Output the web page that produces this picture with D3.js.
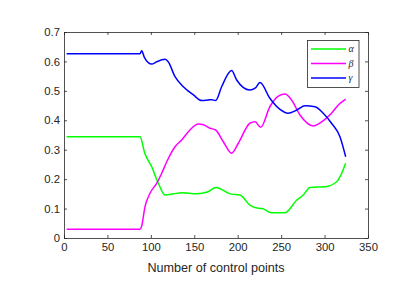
<!DOCTYPE html>
<html>
<head>
<meta charset="utf-8">
<script src="https://cdn.jsdelivr.net/npm/d3@7"></script>
<style>
  body { margin: 0; background: #fff; }
  text { font-family: "Liberation Sans", Arial, sans-serif; fill: #262626; }
</style>
</head>
<body>
<div id="chart"></div>
<script>
// series: [control points, value]
var alpha = [[3,0.344],[87.5,0.344],[93,0.288],[101,0.242],[108.6,0.186],[116.3,0.146],[126,0.15],[135.5,0.154],
  [152.8,0.15],[166,0.157],[175,0.172],[191,0.15],[202.6,0.146],[214,0.112],[223.7,0.101],[228,0.1],[239,0.086],
  [254.4,0.086],[268,0.129],[275.5,0.146],[283.2,0.172],[300.5,0.174],[314,0.191],[324.3,0.254]];
var beta = [[3,0.03],[87.5,0.03],[89.4,0.04],[93.2,0.106],[99,0.152],[106.7,0.186],[112.5,0.22],[118.3,0.259],
  [127.8,0.31],[135.5,0.333],[145,0.367],[154.6,0.387],[160.4,0.385],[168,0.373],[174.6,0.367],[183.4,0.327],
  [193,0.288],[200.7,0.322],[214,0.39],[220,0.395],[226.4,0.376],[237,0.446],[246.8,0.482],[254.4,0.489],
  [262,0.469],[271.7,0.418],[287,0.381],[296.7,0.395],[308,0.424],[315.8,0.452],[324.3,0.472]];
var gamma = [[3,0.626],[87.5,0.626],[89.4,0.636],[92.5,0.614],[101,0.591],[106.7,0.599],[116.3,0.607],[120,0.599],
  [127.8,0.548],[137.4,0.514],[149,0.486],[158.5,0.467],[166,0.469],[170,0.47],[174.6,0.467],[181.5,0.514],
  [193,0.569],[198.8,0.537],[214,0.503],[220,0.509],[225.6,0.528],[237,0.475],[248.7,0.437],[258,0.424],
  [268,0.435],[277.5,0.449],[289,0.446],[298.5,0.424],[308,0.39],[317.7,0.344],[324.3,0.276]];
var seriesNames = ["\u03b1", "\u03b2", "\u03b3"];
var seriesColors = ["#00ff00", "#ff00ff", "#0000ff"];
var xTicks = [0, 50, 100, 150, 200, 250, 300, 350];
var yTicks = [0, 0.1, 0.2, 0.3, 0.4, 0.5, 0.6, 0.7];

var W = 404, H = 294;
var pL = 64, pR = 368, pT = 32, pB = 238;

var svg = d3.select("#chart").append("svg")
  .attr("width", W).attr("height", H);

var x = d3.scaleLinear().domain([0, 350]).range([pL, pR]);
var y = d3.scaleLinear().domain([0, 0.7]).range([pB, pT]);

var line = d3.line()
  .curve(d3.curveMonotoneX)
  .x(function(d) { return x(d[0]); })
  .y(function(d) { return y(d[1]); });

[alpha, beta, gamma].forEach(function(s, i) {
  svg.append("path")
    .attr("d", line(s))
    .attr("fill", "none")
    .attr("stroke", seriesColors[i])
    .attr("stroke-width", 1.5)
    .attr("stroke-linejoin", "round");
});

// axes, MATLAB style box with inward ticks
var xAxis = svg.append("g").attr("transform", "translate(0," + pB + ")")
  .call(d3.axisBottom(x).tickValues(xTicks).tickSizeInner(-3).tickSizeOuter(0).tickPadding(5));
var xTop = svg.append("g").attr("transform", "translate(0," + pT + ")")
  .call(d3.axisTop(x).tickValues(xTicks).tickSizeInner(-3).tickSizeOuter(0).tickFormat(""));
var yAxis = svg.append("g").attr("transform", "translate(" + pL + ",0)")
  .call(d3.axisLeft(y).tickValues(yTicks).tickSizeInner(-3).tickSizeOuter(0).tickPadding(4)
    .tickFormat(function(d) { return d === 0 ? "0" : d3.format(".1f")(d); }));
var yRight = svg.append("g").attr("transform", "translate(" + pR + ",0)")
  .call(d3.axisRight(y).tickValues(yTicks).tickSizeInner(-3).tickSizeOuter(0).tickFormat(""));

[xAxis, xTop, yAxis, yRight].forEach(function(g) {
  g.selectAll("path.domain").attr("stroke", "#262626").attr("stroke-width", 0.8);
  g.selectAll("line").attr("stroke", "#262626").attr("stroke-width", 0.8);
  g.selectAll("text").style("font-size", "11.3px").attr("fill", "#262626")
    .style("font-family", '"Liberation Sans", Arial, sans-serif');
});

svg.append("text")
  .attr("x", (pL + pR) / 2).attr("y", 272)
  .attr("text-anchor", "middle")
  .style("font-size", "12.6px")
  .text("Number of control points");

// legend
var lg = svg.append("g");
lg.append("rect")
  .attr("x", 307.5).attr("y", 40.5).attr("width", 51.5).attr("height", 47)
  .attr("fill", "#fff").attr("stroke", "#262626").attr("stroke-width", 0.8);
seriesNames.forEach(function(n, i) {
  var ly = 49 + i * 14.5;
  lg.append("line")
    .attr("x1", 311).attr("x2", 346).attr("y1", ly).attr("y2", ly)
    .attr("stroke", seriesColors[i]).attr("stroke-width", 1.5);
  lg.append("text")
    .attr("x", 348.5).attr("y", ly + 3)
    .style("font-family", '"Liberation Serif", "DejaVu Serif", serif')
    .style("font-style", "italic")
    .style("font-size", "10px")
    .text(n);
});
</script>
</body>
</html>
